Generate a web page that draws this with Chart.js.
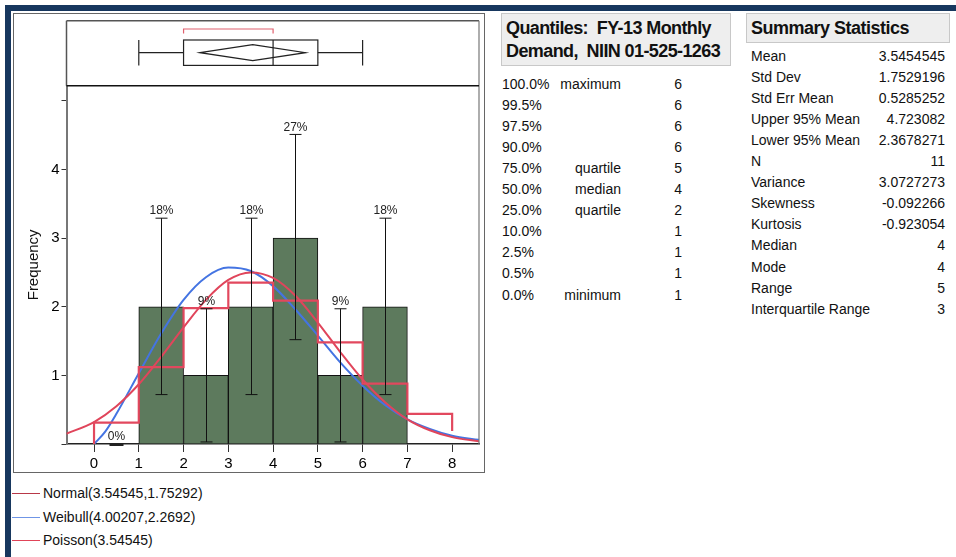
<!DOCTYPE html>
<html>
<head>
<meta charset="utf-8">
<script src="https://cdn.jsdelivr.net/npm/chart.js@4.4.1/dist/chart.umd.min.js"></script>
<style>
  body { margin: 0; width: 956px; height: 557px; background: #fff; position: relative; overflow: hidden;
         font-family: "Liberation Sans", Arial, sans-serif; color: #111; }
  .band-top { position: absolute; left: 5px; top: 5px; width: 951px; height: 6px; background: #17375e; }
  .band-left { position: absolute; left: 5px; top: 5px; width: 6px; height: 552px; background: #17375e; }
  #frame { position: absolute; left: 13px; top: 13px; width: 472px; height: 460px; box-sizing: border-box; border: 1px solid #666; }
  #plot-wrap { position: absolute; left: 13px; top: 13px; width: 472px; height: 460px; }
  .legend-row { position: absolute; left: 12px; height: 20px; font-size: 14px; line-height: 20px; }
  .legend-row span.ln { position: absolute; left: 0; top: 10px; width: 28px; height: 1px; }
  .legend-row span.tx { position: absolute; left: 31px; top: 0; white-space: nowrap; }
  .hdr { position: absolute; top: 13px; background: #eeeeee; border: 1px solid #c8c8c8; box-sizing: border-box;
         font-weight: bold; font-size: 18px; letter-spacing: -0.6px; padding-left: 4px; color: #111; }
  .row { position: absolute; font-size: 14px; height: 21px; line-height: 21px; white-space: nowrap; }
</style>
</head>
<body>
<div class="band-top"></div>
<div class="band-left"></div>
<div id="frame"></div>
<div id="plot-wrap"><canvas id="distChart" width="472" height="460"></canvas></div>
<div id="legend"></div>
<div id="quantiles"></div>
<div id="summary"></div>

<script>
// histogram bins (bin centres), counts and percent labels
const binCenters = [0.5, 1.5, 2.5, 3.5, 4.5, 5.5, 6.5];
const binCounts = [0, 2, 1, 2, 3, 1, 2];
const binPct = ['0%', '18%', '9%', '18%', '27%', '9%', '18%'];
const errLow = [0, 0.72, 0.03, 0.72, 1.52, 0.03, 0.72];
const errHigh = [0, 3.29, 1.97, 3.29, 4.51, 1.97, 3.29];

// fitted curves
const normalX = [-0.62, 0, 0.5, 1, 1.5, 2, 2.5, 3, 3.5, 4, 4.5, 5, 5.5, 6, 6.5, 7, 7.5, 8, 8.6];
const normalY = [0.15, 0.32, 0.55, 0.87, 1.27, 1.70, 2.10, 2.39, 2.50, 2.42, 2.16, 1.77, 1.34, 0.94, 0.61, 0.36, 0.20, 0.10, 0.04];
const weibullX = [0, 0.25, 0.5, 1, 1.5, 2, 2.5, 3, 3.5, 4, 4.5, 5, 5.5, 6, 6.5, 7, 7.5, 8, 8.6];
const weibullY = [0, 0.18, 0.44, 1.03, 1.61, 2.10, 2.43, 2.57, 2.52, 2.30, 1.96, 1.58, 1.19, 0.85, 0.57, 0.36, 0.22, 0.12, 0.06];
const poissonX = [0, 0, 1, 2, 3, 4, 5, 6, 7, 8, 8];
const poissonY = [0, 0.31, 1.12, 1.98, 2.35, 2.09, 1.48, 0.88, 0.44, 0.44, 0.19];

// axes
const xTicks = [0, 1, 2, 3, 4, 5, 6, 7, 8];
const yTicks = [0, 1, 2, 3, 4, 5];
const yTickLabels = ['', '1', '2', '3', '4', ''];

// box plot: min, q1, median, q3, max / mean diamond / shortest half
const boxStats = [1, 2, 4, 5, 6];
const meanDiamond = [2.3678271, 3.5454545, 4.723082];
const shortestHalf = [2, 4];

const legendNames = ['Normal(3.54545,1.75292)', 'Weibull(4.00207,2.2692)', 'Poisson(3.54545)'];
const legendColors = ['#b83848', '#6f95e6', '#e04458'];

const quantPct = ['100.0%', '99.5%', '97.5%', '90.0%', '75.0%', '50.0%', '25.0%', '10.0%', '2.5%', '0.5%', '0.0%'];
const quantLabel = ['maximum', '', '', '', 'quartile', 'median', 'quartile', '', '', '', 'minimum'];
const quantValue = ['6', '6', '6', '6', '5', '4', '2', '1', '1', '1', '1'];

const statNames = ['Mean', 'Std Dev', 'Std Err Mean', 'Upper 95% Mean', 'Lower 95% Mean', 'N', 'Variance',
                   'Skewness', 'Kurtosis', 'Median', 'Mode', 'Range', 'Interquartile Range'];
const statValues = ['3.5454545', '1.7529196', '0.5285252', '4.723082', '2.3678271', '11', '3.0727273',
                    '-0.092266', '-0.923054', '4', '4', '5', '3'];

const FONT = '"Liberation Sans", Arial, sans-serif';

const distExtras = {
    id: 'distExtras',
    afterDatasetsDraw(chart) {
        const ctx = chart.ctx;
        const xs = chart.scales.x, ys = chart.scales.y;
        ctx.save();
        ctx.strokeStyle = '#111';
        ctx.lineWidth = 1;
        ctx.fillStyle = '#222';
        ctx.font = '12px ' + FONT;
        ctx.textAlign = 'center';
        ctx.textBaseline = 'bottom';
        binCenters.forEach((c, i) => {
            const x = Math.round(xs.getPixelForValue(c)) + 0.5;
            const yl = ys.getPixelForValue(errLow[i]);
            const yh = ys.getPixelForValue(errHigh[i]);
            ctx.beginPath();
            ctx.moveTo(x, yl); ctx.lineTo(x, yh);
            ctx.moveTo(x - 6, yl); ctx.lineTo(x + 6, yl);
            ctx.moveTo(x - 6, yh); ctx.lineTo(x + 6, yh);
            ctx.stroke();
            if (errHigh[i] === 0) {
                ctx.fillRect(x - 7, yh - 1, 14, 3);
            }
            ctx.fillText(binPct[i], x, yh - 1);
        });
        ctx.restore();
    },
    afterDraw(chart) {
        const ctx = chart.ctx;
        const xs = chart.scales.x;
        const ca = chart.chartArea;
        const px = v => xs.getPixelForValue(v);
        const panelTop = 7.7;
        ctx.save();
        // frame around box plot panel + chart area
        ctx.strokeStyle = '#555';
        ctx.lineWidth = 1.5;
        ctx.beginPath();
        ctx.moveTo(ca.left, panelTop); ctx.lineTo(ca.right, panelTop);
        ctx.moveTo(ca.left, panelTop); ctx.lineTo(ca.left, ca.top);
        ctx.stroke();
        ctx.strokeStyle = '#777';
        ctx.lineWidth = 1.2;
        ctx.beginPath();
        ctx.moveTo(ca.right, panelTop); ctx.lineTo(ca.right, ca.bottom);
        ctx.stroke();
        ctx.strokeStyle = '#111';
        ctx.lineWidth = 1.5;
        ctx.beginPath();
        ctx.moveTo(ca.left, ca.top); ctx.lineTo(ca.right, ca.top);
        ctx.stroke();

        // box plot
        const yMid = 39.7, hh = 12.7, dh = 8;
        ctx.strokeStyle = '#222';
        ctx.lineWidth = 1.2;
        ctx.beginPath();
        ctx.moveTo(px(boxStats[0]), yMid); ctx.lineTo(px(boxStats[1]), yMid);
        ctx.moveTo(px(boxStats[3]), yMid); ctx.lineTo(px(boxStats[4]), yMid);
        ctx.moveTo(px(boxStats[0]), yMid - hh); ctx.lineTo(px(boxStats[0]), yMid + hh);
        ctx.moveTo(px(boxStats[4]), yMid - hh); ctx.lineTo(px(boxStats[4]), yMid + hh);
        ctx.moveTo(px(boxStats[2]), yMid - hh); ctx.lineTo(px(boxStats[2]), yMid + hh);
        ctx.stroke();
        ctx.strokeRect(px(boxStats[1]), yMid - hh, px(boxStats[3]) - px(boxStats[1]), 2 * hh);
        ctx.beginPath();
        ctx.moveTo(px(meanDiamond[0]), yMid);
        ctx.lineTo(px(meanDiamond[1]), yMid - dh);
        ctx.lineTo(px(meanDiamond[2]), yMid);
        ctx.lineTo(px(meanDiamond[1]), yMid + dh);
        ctx.closePath();
        ctx.stroke();

        // shortest half bracket
        ctx.strokeStyle = '#e0606e';
        ctx.lineWidth = 1.2;
        ctx.beginPath();
        ctx.moveTo(px(shortestHalf[0]), 20.5); ctx.lineTo(px(shortestHalf[0]), 16);
        ctx.lineTo(px(shortestHalf[1]), 16); ctx.lineTo(px(shortestHalf[1]), 20.5);
        ctx.stroke();
        ctx.restore();
    }
};

const toPoints = (xs, ys) => xs.map((x, i) => ({ x: x, y: ys[i] }));

new Chart(document.getElementById('distChart'), {
    data: {
        datasets: [
            {
                type: 'bar',
                label: 'Frequency',
                data: toPoints(binCenters, binCounts).filter(p => p.y > 0),
                backgroundColor: '#5d7a5d',
                borderColor: '#111',
                borderWidth: 1,
                barPercentage: 1,
                categoryPercentage: 1,
                order: 10
            },
            {
                type: 'line',
                label: legendNames[1],
                data: toPoints(weibullX, weibullY),
                borderColor: '#4474e2',
                borderWidth: 2,
                pointRadius: 0,
                cubicInterpolationMode: 'monotone',
                order: 3
            },
            {
                type: 'line',
                label: legendNames[0],
                data: toPoints(normalX, normalY),
                borderColor: '#e0455b',
                borderWidth: 2,
                pointRadius: 0,
                cubicInterpolationMode: 'monotone',
                order: 2
            },
            {
                type: 'line',
                label: legendNames[2],
                data: toPoints(poissonX, poissonY),
                borderColor: '#e2485e',
                borderWidth: 2.2,
                pointRadius: 0,
                stepped: 'before',
                order: 1
            }
        ]
    },
    options: {
        responsive: false,
        animation: false,
        devicePixelRatio: 1,
        layout: { padding: { top: 72.7, right: 6, left: 0, bottom: 0 } },
        plugins: { legend: { display: false }, tooltip: { enabled: false } },
        scales: {
            x: {
                type: 'linear',
                min: -0.615,
                max: 8.6,
                offset: false,
                afterBuildTicks: s => { s.ticks = xTicks.map(v => ({ value: v })); },
                afterFit: s => { s.height = 29; },
                grid: { drawOnChartArea: false, offset: false, tickLength: 8, color: '#333' },
                border: { color: '#222', width: 1.5 },
                ticks: { font: { size: 15, family: FONT }, color: '#000', padding: 3, maxRotation: 0 }
            },
            y: {
                min: 0,
                max: 5.22,
                afterBuildTicks: s => { s.ticks = yTicks.map(v => ({ value: v })); },
                afterFit: s => { s.width = 53.5; },
                grid: { drawOnChartArea: false, tickLength: 5, color: '#333' },
                border: { color: '#777', width: 2 },
                ticks: { font: { size: 15, family: FONT }, color: '#000', padding: 2, callback: (v, i) => yTickLabels[i] },
                title: { display: true, text: 'Frequency', font: { size: 15, family: FONT }, color: '#111', padding: { top: 12, bottom: 0 } }
            }
        }
    },
    plugins: [distExtras]
});

// legend under the plot
const legendBox = document.getElementById('legend');
legendNames.forEach((name, i) => {
    const row = document.createElement('div');
    row.className = 'legend-row';
    row.style.top = (483 + i * 23.5) + 'px';
    row.innerHTML = `<span class="ln" style="background:${legendColors[i]}"></span><span class="tx">${name}</span>`;
    legendBox.appendChild(row);
});

// quantiles table
const quant = document.getElementById('quantiles');
let qHtml = `<div class="hdr" style="left:501px; width:230px; height:53px; line-height:23px; padding-top:3px;">Quantiles:&nbsp; FY-13 Monthly<br>Demand,&nbsp; NIIN 01-525-1263</div>`;
quantPct.forEach((p, i) => {
    const top = 73.5 + i * 21.1;
    qHtml += `<div class="row" style="left:502px; top:${top}px;">${p}</div>`;
    qHtml += `<div class="row" style="left:540px; width:81px; text-align:right; top:${top}px;">${quantLabel[i]}</div>`;
    qHtml += `<div class="row" style="left:640px; width:42px; text-align:right; top:${top}px;">${quantValue[i]}</div>`;
});
quant.innerHTML = qHtml;

// summary statistics table
const summary = document.getElementById('summary');
let sHtml = `<div class="hdr" style="left:746px; width:204px; height:30px; line-height:28px; letter-spacing:-0.5px;">Summary Statistics</div>`;
statNames.forEach((n, i) => {
    const top = 45.5 + i * 21.1;
    sHtml += `<div class="row" style="left:751px; top:${top}px;">${n}</div>`;
    sHtml += `<div class="row" style="left:860px; width:85px; text-align:right; top:${top}px;">${statValues[i]}</div>`;
});
summary.innerHTML = sHtml;
</script>
</body>
</html>
